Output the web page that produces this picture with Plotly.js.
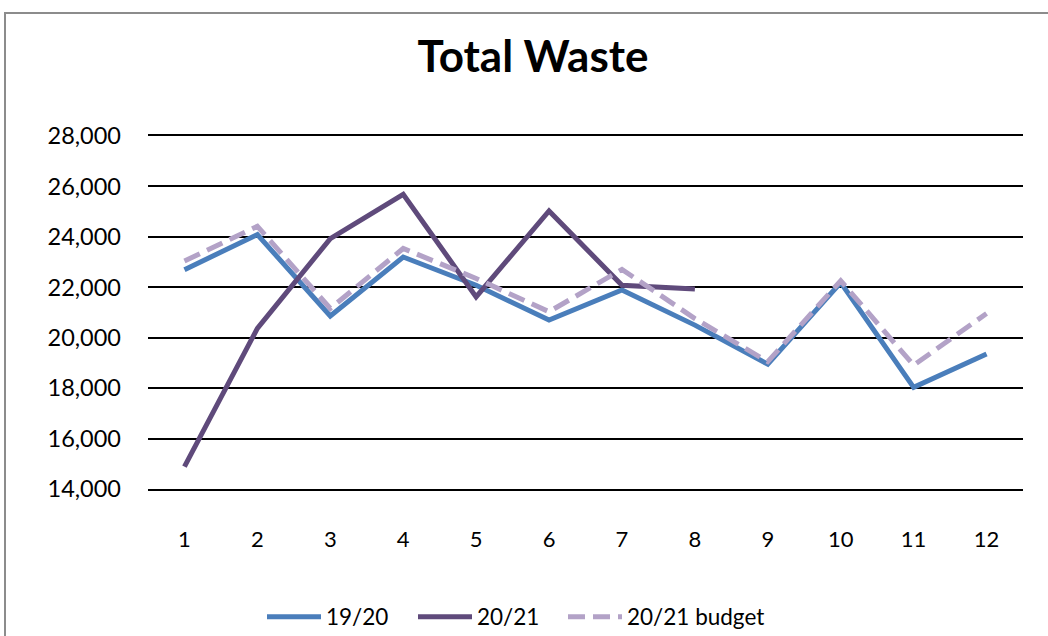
<!DOCTYPE html>
<html>
<head>
<meta charset="utf-8">
<script src="https://cdn.plot.ly/plotly-3.0.1.min.js"></script>
<style>
  html, body { margin: 0; padding: 0; background: #fff; }
  #wrap { position: relative; width: 1048px; height: 636px; overflow: hidden; }
  #chart { width: 1048px; height: 636px; }
  #frame { position: absolute; left: 4px; top: 12px; width: 1100px; height: 700px;
           border: 2px solid #8c8c8c; pointer-events: none; box-sizing: border-box; }
</style>
</head>
<body>
<div id="wrap">
  <div id="chart"></div>
  <div id="frame"></div>
</div>
<script>
const months = ['1','2','3','4','5','6','7','8','9','10','11','12'];
const s1920 = [22700, 24090, 20860, 23200, 22080, 20700, 21890, 20500, 18950, 22190, 18030, 19350];
const s2021 = [14890, 20370, 23930, 25690, 21620, 25030, 22080, 21930];
const budget2021 = [23040, 24420, 21160, 23540, 22350, 21030, 22710, 20760, 19050, 22260, 18910, 20960];
const seriesNames = ['19/20', '20/21', '20/21 budget'];

const font = 'Lato, "Open Sans", "DejaVu Sans", sans-serif';

const traces = [
  { x: months, y: s1920, name: seriesNames[0], type: 'scatter', mode: 'lines', legend: 'legend',
    line: { color: '#4A7EBB', width: 5 } },
  { x: months.slice(0, s2021.length), y: s2021, name: seriesNames[1], type: 'scatter', mode: 'lines',
    legend: 'legend2', line: { color: '#5F4A7B', width: 5 } },
  { x: months, y: budget2021, name: seriesNames[2], type: 'scatter', mode: 'lines', legend: 'legend3',
    line: { color: '#B3A2C7', width: 5, dash: '17px,8px' } }
];

function leg(xpx) {
  return { orientation: 'h', xref: 'container', yref: 'container',
           x: xpx / 1048, xanchor: 'left', y: 1 - 617/636, yanchor: 'middle',
           font: { size: 22.5, family: font, color: '#000' }, itemwidth: 54, bgcolor: 'rgba(0,0,0,0)' };
}

const layout = {
  width: 1048, height: 636,
  paper_bgcolor: '#ffffff', plot_bgcolor: '#ffffff',
  margin: { l: 148, r: 25, t: 136, b: 147 },
  font: { family: font, color: '#000', size: 22 },
  title: { text: '<b>Total Waste</b>', font: { family: font, size: 44, color: '#000' },
           x: 0.5086, xref: 'container', xanchor: 'center',
           y: 1 - 57/636, yref: 'container', yanchor: 'middle' },
  xaxis: { type: 'category', range: [-0.5, 11.5], showgrid: false, zeroline: false,
           showline: true, linecolor: '#000', linewidth: 2, mirror: true,
           ticks: '', ticklabelstandoff: 30, tickfont: { size: 22 } },
  yaxis: { range: [14000, 28000], dtick: 2000, tickformat: ',d', showgrid: true,
           gridcolor: '#000', gridwidth: 2, zeroline: false, showline: false,
           ticks: '', ticklabelstandoff: 26, tickfont: { size: 23.5 } },
  showlegend: true,
  legend: leg(262),
  legend2: leg(413),
  legend3: leg(563)
};

Plotly.newPlot('chart', traces, layout, { displayModeBar: false, staticPlot: true });
</script>
</body>
</html>
